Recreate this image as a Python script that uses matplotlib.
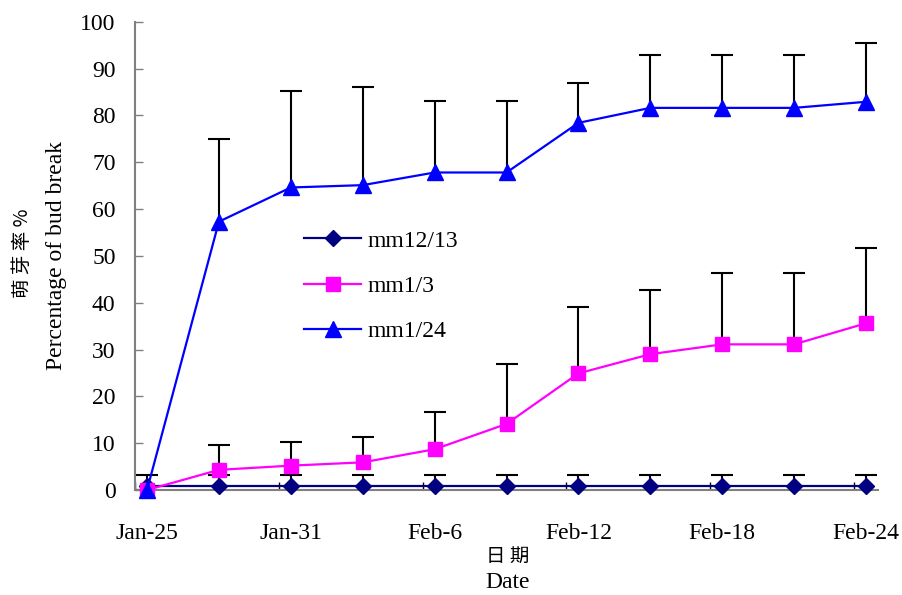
import matplotlib
matplotlib.use("Agg")
import matplotlib.pyplot as plt

# sampling days, counted from Jan-25, every 3 days
days = [0, 3, 6, 9, 12, 15, 18, 21, 24, 27, 30]
date_labels = ["Jan-25", "Jan-31", "Feb-6", "Feb-12", "Feb-18", "Feb-24"]
label_days = [0, 6, 12, 18, 24, 30]

series_names = ["mm12/13", "mm1/3", "mm1/24"]
mm1213 = [0.9, 0.9, 0.9, 0.9, 0.9, 0.9, 0.9, 0.9, 0.9, 0.9, 0.9]
mm1213_err = [2.3, 2.3, 2.3, 2.3, 2.3, 2.3, 2.3, 2.3, 2.3, 2.3, 2.3]
mm13 = [0, 4.3, 5.2, 5.9, 8.7, 14.1, 24.9, 29.0, 31.1, 31.1, 35.6]
mm13_err = [0, 5.2, 5.1, 5.4, 7.9, 12.9, 14.2, 13.7, 15.2, 15.2, 16.0]
mm124 = [0, 57.3, 64.6, 65.1, 67.8, 67.8, 78.4, 81.6, 81.6, 81.6, 82.9]
mm124_err = [0, 17.6, 20.6, 21.0, 15.2, 15.2, 8.6, 11.2, 11.2, 11.2, 12.6]

SERIF = ["Liberation Serif", "DejaVu Serif"]
CJK = ["Noto Sans CJK SC", "DejaVu Sans"]
plt.rcParams["font.family"] = SERIF

fig = plt.figure(figsize=(9.02, 5.95), dpi=100)
ax = fig.add_axes([0.1497, 0.1765, 0.8237, 0.787])

styles = [
    (mm1213, mm1213_err, "#000080", "D", 8.5),
    (mm13, mm13_err, "#ff00ff", "s", 9.5),
    (mm124, mm124_err, "#0000ff", "^", 11),
]
for (vals, err, col, mk, ms), name in zip(styles, series_names):
    # upper error bars only: hide the lower cap
    _, caps, _ = ax.errorbar(days, vals, yerr=[[0] * len(err), err], fmt="none",
                             ecolor="black", elinewidth=1.5, capsize=8,
                             capthick=1.5, zorder=2)
    caps[0].set_visible(False)
    ax.plot(days, vals, color=col, marker=mk, markersize=ms, lw=1.6,
            label=name, zorder=3, clip_on=False)

ax.set_xlim(-0.5, 30.5)
ax.set_ylim(0, 100)
ax.set_yticks(range(0, 101, 10))
ax.tick_params(axis="y", direction="in", length=6, width=1, color="#808080",
               labelsize=17, pad=14)
# tick marks sit half a day left of the labelled dates
ax.set_xticks([d - 0.5 for d in label_days])
ax.set_xticklabels([])
ax.set_xticks(label_days, minor=True)
ax.set_xticklabels(date_labels, minor=True)
ax.tick_params(axis="x", which="major", direction="in", length=6, width=1,
               color="black")
ax.tick_params(axis="x", which="minor", length=0, labelsize=17, pad=24)

for side in ("top", "right"):
    ax.spines[side].set_visible(False)
for side in ("left", "bottom"):
    ax.spines[side].set_color("#808080")
    ax.spines[side].set_linewidth(1.5)

ax.legend(loc="upper left", bbox_to_anchor=(0.215, 0.575), frameon=False,
          fontsize=17, handlelength=2.4, handletextpad=0.3, labelspacing=1.0,
          borderaxespad=0)

fig.text(0.063, 0.571, "Percentage of bud break", rotation=90,
         ha="center", va="center", fontsize=17)
fig.text(0.025, 0.575, "萌 芽 率 %", rotation=90, ha="center", va="center",
         fontsize=14, family=CJK)
fig.text(0.5625, 1 - 556 / 595, "日 期", ha="center", va="center",
         fontsize=14, family=CJK)
fig.text(0.5625, 1 - 583 / 595, "Date", ha="center", va="center", fontsize=17)

fig.savefig("out.png", dpi=100)
